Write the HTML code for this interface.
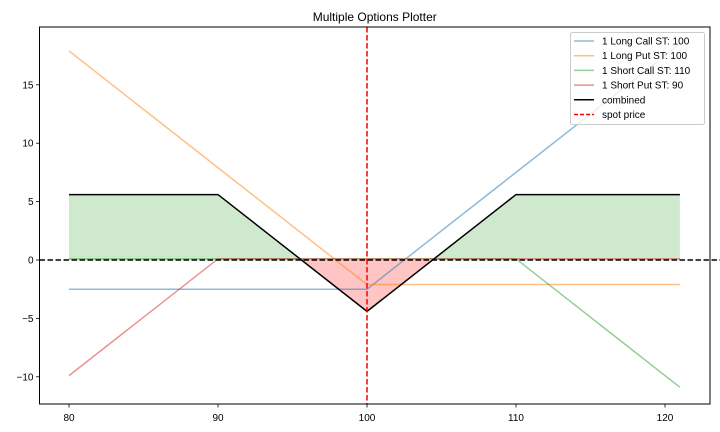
<!DOCTYPE html>
<html><head><meta charset="utf-8">
<style>
html,body{margin:0;padding:0;background:#fff;}
svg{display:block;font-family:"Liberation Sans","DejaVu Sans",sans-serif;}
</style></head>
<body>
<svg id="chart" width="720" height="432" viewBox="0 0 720 432">
</svg>
<script>
const strikesX = [80, 90, 100, 110, 121];
const longCall100 = [-2.5, -2.5, -2.5, 7.5, 18.5];
const longPut100 = [17.9, 7.9, -2.1, -2.1, -2.1];
const shortCall110 = [0.1, 0.1, 0.1, 0.1, -10.9];
const shortPut90 = [-9.9, 0.1, 0.1, 0.1, 0.1];
const combined = [5.6, 5.6, -4.4, 5.6, 5.6];
const xTicks = [80, 90, 100, 110, 120];
const yTicks = [-10, -5, 0, 5, 10, 15];
const spotPrice = 100;
const seriesNames = ["1 Long Call ST: 100","1 Long Put ST: 100","1 Short Call ST: 110","1 Short Put ST: 90","combined","spot price"];

const L=39.5,R=710,T=27,B=404;
const xMin=78.02,xMax=123.02,yMin=-12.33,yMax=19.95;
const X=v=>L+(v-xMin)/(xMax-xMin)*(R-L);
const Y=v=>B-(v-yMin)/(yMax-yMin)*(B-T);
const svg=document.getElementById('chart');
const NS='http://www.w3.org/2000/svg';
function mk(tag,attrs,parent){const e=document.createElementNS(NS,tag);for(const k in attrs)e.setAttribute(k,attrs[k]);(parent||svg).appendChild(e);return e;}
function pts(xs,ys){return xs.map((x,i)=>X(x).toFixed(2)+','+Y(ys[i]).toFixed(2)).join(' ');}

// clip paths
const defs=mk('defs',{});
const cpA=mk('clipPath',{id:'above'},defs);
mk('rect',{x:L,y:T,width:R-L,height:Y(0)-T},cpA);
const cpB=mk('clipPath',{id:'below'},defs);
mk('rect',{x:L,y:Y(0),width:R-L,height:B-Y(0)},cpB);

// fills
const fillPts=pts(strikesX,combined)+' '+X(strikesX[strikesX.length-1])+','+Y(0)+' '+X(strikesX[0])+','+Y(0);
const gf=mk('polygon',{points:fillPts,fill:'#2ca02c','fill-opacity':0.23,'clip-path':'url(#above)'});


const rf=mk('polygon',{points:fillPts,fill:'#ff0000','fill-opacity':0.23,'clip-path':'url(#below)'});



// series
const series=[[longCall100,'#1f77b4',0.5,'long-call-line'],[longPut100,'#ff7f0e',0.5,'long-put-line'],[shortCall110,'#2ca02c',0.5,'short-call-line'],[shortPut90,'#d62728',0.5,'short-put-line']];
const plotClip=mk('clipPath',{id:'plot'},defs);
mk('rect',{x:L,y:T,width:R-L,height:B-T},plotClip);
series.forEach(s=>{
  const p=mk('polyline',{points:pts(strikesX,s[0]),fill:'none',stroke:s[1],'stroke-opacity':s[2],'stroke-width':1.5,'clip-path':'url(#plot)'});
  
  
});
const cl=mk('polyline',{points:pts(strikesX,combined),fill:'none',stroke:'#000','stroke-width':1.5});



// zero line & spot
const zl=mk('line',{x1:L,x2:R+10,y1:Y(0),y2:Y(0),stroke:'#000','stroke-width':1.5,'stroke-dasharray':'5.5,2.5'});


const sp=mk('line',{x1:X(spotPrice),x2:X(spotPrice),y1:T,y2:B,stroke:'#ff0000','stroke-width':1.5,'stroke-dasharray':'5.5,2.5'});



// axes frame
const fr=mk('rect',{x:L,y:T,width:R-L,height:B-T,fill:'none',stroke:'#000','stroke-width':1});



xTicks.forEach(t=>{
  mk('line',{x1:X(t),x2:X(t),y1:B,y2:B+3.5,stroke:'#000','stroke-width':0.8});
  const tx=mk('text',{x:X(t),y:B+17,'text-anchor':'middle','font-size':10,fill:'#000'});
  tx.textContent=t;
  
  
});
yTicks.forEach(t=>{
  mk('line',{x1:L-3.5,x2:L,y1:Y(t),y2:Y(t),stroke:'#000','stroke-width':0.8});
  const tx=mk('text',{x:L-6,y:Y(t)+3.5,'text-anchor':'end','font-size':10,fill:'#000'});
  tx.textContent=t<0?'\u2212'+Math.abs(t):t;
  
  
});

const title=mk('text',{x:(L+R)/2,y:21,'text-anchor':'middle','font-size':12,fill:'#000'});
title.textContent='Multiple Options Plotter';



// legend
const lg=mk('g',{});


mk('rect',{x:570.5,y:32.5,width:134,height:92,rx:2,fill:'#fff','fill-opacity':0.8,stroke:'#ccc','stroke-width':1},lg);
const lgStyles=[['#1f77b4',0.5,''],['#ff7f0e',0.5,''],['#2ca02c',0.5,''],['#d62728',0.5,''],['#000',1,''],['#ff0000',1,'4,2']];
seriesNames.forEach((n,i)=>{
  const y=41+i*14.7;
  const ln=mk('line',{x1:574,x2:594,y1:y,y2:y,stroke:lgStyles[i][0],'stroke-opacity':lgStyles[i][1],'stroke-width':1.5},lg);
  if(lgStyles[i][2])ln.setAttribute('stroke-dasharray',lgStyles[i][2]);
  const t=mk('text',{x:602,y:y+3.5,'font-size':10,fill:'#000'},lg);
  t.textContent=n;
  
  
});
</script>
</body></html>
